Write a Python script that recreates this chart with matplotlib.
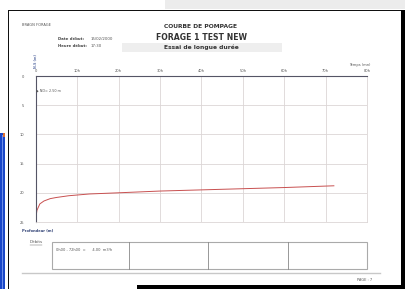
import matplotlib
matplotlib.use("Agg")
import matplotlib.pyplot as plt
from matplotlib.patches import Rectangle

# ── data read from the page ─────────────────────────────
hours = [0, 0.3, 1, 2, 3.5, 5, 8, 13, 20, 30, 40, 50, 60, 72]
depth = [24.5, 23.0, 21.9, 21.4, 21.0, 20.8, 20.5, 20.2, 20.0, 19.7, 19.5, 19.3, 19.1, 18.8]
x_ticks = [0, 10, 20, 30, 40, 50, 60, 70, 80]
x_labels = ["0", "10h", "20h", "30h", "40h", "50h", "60h", "70h", "80h"]
y_ticks = [0, 5, 10, 15, 20, 25]
debit_cells = ["0h00 - 72h00  =      4.00  m3/h", "", "", ""]

W, H = 405, 289
TXT = "#555555"
GRID = "#dcd6d6"


def fx(x):
    return x / W


def fy(y):
    return 1 - y / H


fig = plt.figure(figsize=(W / 100, H / 100), dpi=100)
fig.patch.set_facecolor("white")


def frect(x0, y0, x1, y1, **kw):
    fig.patches.append(Rectangle((fx(x0), fy(y1)), fx(x1 - x0), (y1 - y0) / H,
                                 transform=fig.transFigure, **kw))


# ── screenshot frame ─────────────────────────────────────
frect(165, 0, 405, 9, facecolor="#ececec", edgecolor="none")
frect(8, 9.5, 405, 11, facecolor="#111111", edgecolor="none")
frect(7.5, 9.5, 9, 289, facecolor="#111111", edgecolor="none")
frect(401, 9.5, 405, 289, facecolor="#000000", edgecolor="none")
frect(137, 285, 405, 289, facecolor="#000000", edgecolor="none")
frect(0, 133, 4.5, 289, facecolor="#1a47c8", edgecolor="none")
frect(1.5, 135, 3, 289, facecolor="#6f8fe8", edgecolor="none")
frect(2.5, 133, 4.5, 137, facecolor="#e07030", edgecolor="none")

# ── header ───────────────────────────────────────────────
fig.text(fx(22), fy(25), "BRAGN FORAGE", fontsize=2.6, color=TXT, va="center")
fig.text(fx(201), fy(27), "COURBE DE POMPAGE", fontsize=4.3, color="#333333",
         ha="center", va="center", fontweight="bold")
fig.text(fx(201), fy(37.5), "FORAGE 1 TEST NEW", fontsize=5.6, color="#333333",
         ha="center", va="center", fontweight="bold")
frect(122, 43, 282, 51.5, facecolor="#eeeeee", edgecolor="none")
fig.text(fx(201), fy(47.5), "Essai de longue durée", fontsize=4.3, color="#333333",
         ha="center", va="center", fontweight="bold")
fig.text(fx(58), fy(39.5), "Date début:", fontsize=2.8, color="#444444",
         va="center", fontweight="bold")
fig.text(fx(91), fy(39.5), "15/02/2000", fontsize=2.8, color=TXT, va="center")
fig.text(fx(58), fy(46), "Heure début:", fontsize=2.8, color="#444444",
         va="center", fontweight="bold")
fig.text(fx(91), fy(46), "17:30", fontsize=2.8, color=TXT, va="center")

# ── chart ────────────────────────────────────────────────
ax = fig.add_axes([fx(35.7), fy(222), (367 - 35.7) / W, (222 - 76) / H])
ax.plot(hours, depth, color="#c85050", linewidth=0.7)
ax.set_xlim(0, 80)
ax.set_ylim(25, 0)
ax.xaxis.tick_top()
ax.set_xticks(x_ticks)
ax.set_xticklabels(x_labels)
ax.set_yticks(y_ticks)
ax.tick_params(length=0, labelsize=2.6, colors=TXT, pad=2)
ax.tick_params(axis="y", pad=8)
ax.grid(color=GRID, linewidth=0.6)
for side in ("right", "bottom"):
    ax.spines[side].set_color(GRID)
    ax.spines[side].set_linewidth(0.6)
ax.spines["top"].set_color("#555566")
ax.spines["top"].set_linewidth(0.8)
ax.spines["left"].set_color("#555566")
ax.spines["left"].set_linewidth(0.8)

fig.text(fx(360), fy(65), "Temps (mn)", fontsize=2.6, color=TXT,
         va="center", ha="center")
fig.text(fx(35.5), fy(61), "N.S (m)", fontsize=2.4, color="#6677aa",
         rotation=90, ha="center", va="center", fontweight="bold")
fig.text(fx(36), fy(91), "\u25c6 ND= 2.50 m", fontsize=2.4, color=TXT, va="center")
fig.text(fx(22), fy(231), "Profondeur (m)", fontsize=2.6, color="#334477",
         va="center", fontweight="bold")

# ── débits table ─────────────────────────────────────────
fig.text(fx(30), fy(242), "Débits", fontsize=3.0, color=TXT, va="center")
fig.lines.append(plt.Line2D([fx(30), fx(42)], [fy(244.5), fy(244.5)],
                            transform=fig.transFigure, color=TXT, linewidth=0.3))
frect(52, 242, 367, 269, facecolor="none", edgecolor="#aaaaaa", linewidth=0.8)
for xd in (129, 208, 288):
    fig.lines.append(plt.Line2D([fx(xd), fx(xd)], [fy(242), fy(269)],
                                transform=fig.transFigure, color="#888888",
                                linewidth=0.6))
cell_x = [56, 133, 212, 292]
for cx, label in zip(cell_x, debit_cells):
    fig.text(fx(cx), fy(250), label, fontsize=2.6, color=TXT, va="center")

fig.lines.append(plt.Line2D([fx(22), fx(380)], [fy(273), fy(273)],
                            transform=fig.transFigure, color="#c8c8c8",
                            linewidth=1.0))
fig.text(fx(365), fy(280), "PAGE : 7", fontsize=2.6, color=TXT,
         va="center", ha="center")

fig.savefig("out.png", dpi=100, facecolor="white")
